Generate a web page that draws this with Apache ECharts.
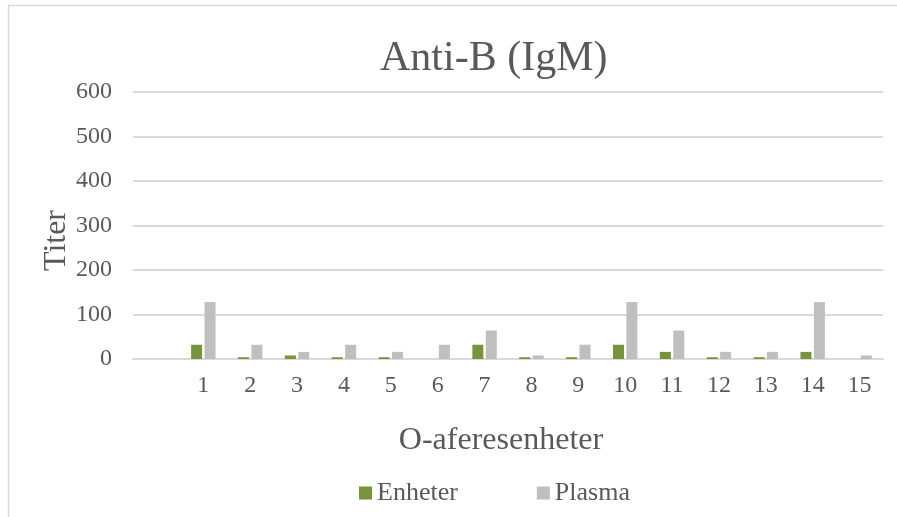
<!DOCTYPE html>
<html>
<head>
<meta charset="utf-8">
<script src="https://cdn.jsdelivr.net/npm/echarts@6/dist/echarts.min.js"></script>
<style>
  html, body { margin: 0; padding: 0; background: #fff; }
  #chart { width: 897px; height: 517px; }
</style>
</head>
<body>
<div id="chart"></div>
<script>
// data (first category is empty)
var categories = ['', '1', '2', '3', '4', '5', '6', '7', '8', '9', '10', '11', '12', '13', '14', '15'];
var enheter = [null, 32, 4, 8, 4, 4, 0, 32, 4, 4, 32, 16, 4, 4, 16, 0];
var plasma = [null, 128, 32, 16, 32, 16, 32, 64, 8, 32, 128, 64, 16, 16, 128, 8];

var serif = 'Liberation Serif';
var textColor = '#595959';
var gridColor = '#D9D9D9';

var chart = echarts.init(document.getElementById('chart'), null, {
  renderer: 'canvas'
});

var option = {
  backgroundColor: '#fff',
  animation: false,
  title: {
    text: 'Anti-B (IgM)',
    left: 380,
    top: 38,
    padding: 0,
    textStyle: {
      fontFamily: serif,
      fontSize: 42,
      fontWeight: 'normal',
      color: textColor
    }
  },
  // chart frame, only top and left edges are visible
  graphic: [
    {
      type: 'rect',
      shape: { x: 8.5, y: 5.5, width: 1000, height: 1000 },
      style: { fill: 'none', stroke: gridColor, lineWidth: 1.5 },
      silent: true
    }
  ],
  legend: {
    left: 359,
    top: 480,
    itemWidth: 13,
    itemHeight: 13,
    itemGap: 79,
    padding: 0,
    icon: 'rect',
    textStyle: {
      fontFamily: serif,
      fontSize: 26,
      color: textColor
    },
    data: ['Enheter', 'Plasma']
  },
  grid: {
    left: 133,
    right: 14,
    top: 92,
    bottom: 158,
    containLabel: false
  },
  xAxis: {
    type: 'category',
    data: categories,
    name: 'O-aferesenheter',
    nameLocation: 'middle',
    nameGap: 66,
    nameMoveOverlap: false,
    nameTextStyle: {
      fontFamily: serif,
      fontSize: 32,
      color: textColor,
      padding: [0, 14, 0, 0]
    },
    axisLine: { show: true, lineStyle: { color: gridColor, width: 2 } },
    axisTick: { show: false },
    axisLabel: {
      interval: 0,
      margin: 15,
      fontFamily: serif,
      fontSize: 24,
      color: textColor
    }
  },
  yAxis: {
    type: 'value',
    min: 0,
    max: 600,
    interval: 100,
    name: 'Titer',
    nameLocation: 'middle',
    nameGap: 60,
    nameMoveOverlap: false,
    nameTextStyle: {
      fontFamily: serif,
      fontSize: 32,
      color: textColor,
      padding: [0, 30, 0, 0]
    },
    axisLine: { show: false },
    axisTick: { show: false },
    axisLabel: {
      margin: 21,
      fontFamily: serif,
      fontSize: 24,
      color: textColor
    },
    splitLine: { lineStyle: { color: gridColor, width: 2 } }
  },
  series: [
    {
      name: 'Enheter',
      type: 'bar',
      barWidth: 11,
      barGap: '22%',
      itemStyle: { color: '#77933C' },
      data: enheter
    },
    {
      name: 'Plasma',
      type: 'bar',
      barWidth: 11,
      barGap: '22%',
      itemStyle: { color: '#BFBFBF' },
      data: plasma
    }
  ]
};

chart.setOption(option);
</script>
</body>
</html>
